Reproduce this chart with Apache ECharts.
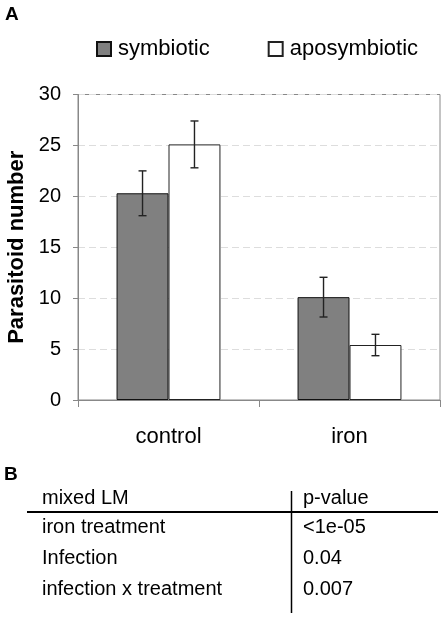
<!DOCTYPE html>
<html>
<head>
<meta charset="utf-8">
<script src="https://cdn.jsdelivr.net/npm/echarts@6/dist/echarts.min.js"></script>
<style>
html,body{margin:0;padding:0;background:#fff;}
#chart{width:446px;height:618px;}
</style>
</head>
<body>
<div id="chart"></div>
<script>
const categories = ['control', 'iron'];
const seriesNames = ['symbiotic', 'aposymbiotic'];
const symbiotic = [20.3, 10.1];
const aposymbiotic = [25.1, 5.4];
const symbioticErr = [2.2, 1.95];
const aposymbioticErr = [2.3, 1.05];
const yMin = 0, yMax = 30, yStep = 5;
const tableHeader = ['mixed LM', 'p-value'];
const tableTerms = ['iron treatment', 'Infection', 'infection x treatment'];
const tablePValues = ['<1e-05', '0.04', '0.007'];

const FONT = "'Liberation Sans', Arial, Helvetica, sans-serif";
const chart = echarts.init(document.getElementById('chart'), null, {renderer: 'canvas'});

const BAR_FRAC = 0.287;
function errSeries(vals, errs, dir) {
  return {
    type: 'custom',
    z: 10,
    silent: true,
    renderItem: function (params, api) {
      const idx = api.value(0);
      const lo = api.coord([idx, api.value(1)]);
      const hi = api.coord([idx, api.value(2)]);
      const band = api.size([1, 0])[0];
      const cx = lo[0] + dir * band * BAR_FRAC / 2;
      const hw = 4;
      const st = {stroke: '#222', lineWidth: 1.4};
      return {
        type: 'group',
        children: [
          {type: 'line', shape: {x1: cx, y1: lo[1], x2: cx, y2: hi[1]}, style: st},
          {type: 'line', shape: {x1: cx - hw, y1: hi[1], x2: cx + hw, y2: hi[1]}, style: st},
          {type: 'line', shape: {x1: cx - hw, y1: lo[1], x2: cx + hw, y2: lo[1]}, style: st}
        ]
      };
    },
    data: vals.map((v, i) => [i, v - errs[i], v + errs[i]])
  };
}

const graphics = [
  {type: 'text', x: 5, y: 15, style: {text: 'A', fontSize: 19, fontWeight: 'bold', fontFamily: FONT, fill: '#000', verticalAlign: 'middle'}},
  {type: 'text', x: 4, y: 475, style: {text: 'B', fontSize: 19, fontWeight: 'bold', fontFamily: FONT, fill: '#000', verticalAlign: 'middle'}},
  {type: 'text', x: 42, y: 498, style: {text: tableHeader[0], fontSize: 20, fontFamily: FONT, fill: '#000', verticalAlign: 'middle'}},
  {type: 'text', x: 303, y: 498, style: {text: tableHeader[1], fontSize: 20, fontFamily: FONT, fill: '#000', verticalAlign: 'middle'}},
  {type: 'line', shape: {x1: 27, y1: 512, x2: 438, y2: 512}, style: {stroke: '#000', lineWidth: 2}},
  {type: 'line', shape: {x1: 291.5, y1: 491, x2: 291.5, y2: 613}, style: {stroke: '#000', lineWidth: 1.5}}
];
tableTerms.forEach((t, i) => {
  const y = 527 + i * 31;
  graphics.push({type: 'text', x: 42, y: y, style: {text: t, fontSize: 20, fontFamily: FONT, fill: '#000', verticalAlign: 'middle'}});
  graphics.push({type: 'text', x: 303, y: y, style: {text: tablePValues[i], fontSize: 20, fontFamily: FONT, fill: '#000', verticalAlign: 'middle'}});
});

chart.setOption({
  animation: false,
  backgroundColor: '#fff',
  textStyle: {fontFamily: FONT},
  grid: {left: 78, right: 6, top: 94.5, bottom: 218, show: true, borderColor: '#888', borderWidth: 1, containLabel: false, outerBoundsMode: 'none'},
  legend: {
    data: seriesNames,
    left: 91, top: 33,
    itemWidth: 14, itemHeight: 14, itemGap: 58,
    icon: 'rect',
    textStyle: {fontSize: 22, color: '#000', fontFamily: FONT, padding: [0, 0, 0, 2]}
  },
  xAxis: {
    type: 'category',
    data: categories,
    axisLine: {show: true, lineStyle: {color: '#888', width: 1}},
    axisTick: {show: true, length: 7, lineStyle: {color: '#888'}},
    axisLabel: {fontSize: 22, color: '#000', margin: 26, fontFamily: FONT},
    splitLine: {show: false}
  },
  yAxis: {
    type: 'value',
    min: yMin, max: yMax, interval: yStep,
    name: 'Parasitoid number',
    nameLocation: 'middle',
    nameGap: 50,
    nameTextStyle: {fontSize: 22, fontWeight: 'bold', color: '#000', fontFamily: FONT},
    axisLine: {show: true, lineStyle: {color: '#888', width: 1}},
    axisTick: {show: true, length: 5, lineStyle: {color: '#888'}},
    axisLabel: {fontSize: 20, color: '#000', margin: 17, fontFamily: FONT},
    splitLine: {show: true, lineStyle: {color: '#ddd', type: [7, 4], width: 1}}
  },
  graphic: graphics,
  series: [
    {
      name: seriesNames[0], type: 'bar', data: symbiotic,
      barWidth: (BAR_FRAC * 100) + '%', barGap: '0%',
      itemStyle: {color: '#808080', borderColor: '#111', borderWidth: 1}
    },
    {
      name: seriesNames[1], type: 'bar', data: aposymbiotic,
      barWidth: (BAR_FRAC * 100) + '%', barGap: '0%',
      itemStyle: {color: '#ffffff', borderColor: '#222', borderWidth: 1}
    },
    errSeries(symbiotic, symbioticErr, -1),
    errSeries(aposymbiotic, aposymbioticErr, 1)
  ]
});
</script>
</body>
</html>
